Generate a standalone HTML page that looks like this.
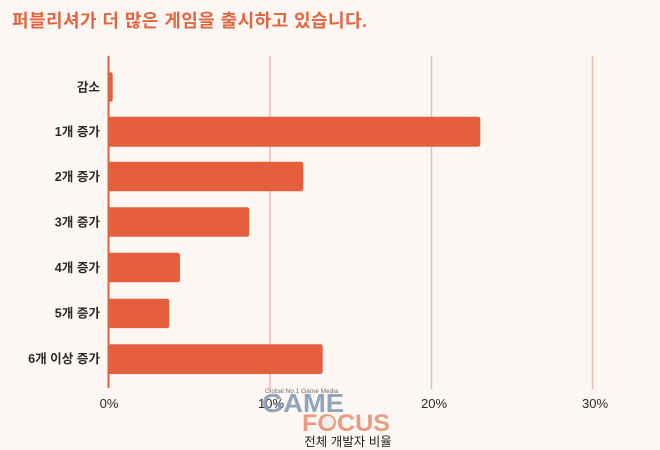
<!DOCTYPE html>
<html>
<head>
<meta charset="utf-8">
<style>
html,body{margin:0;padding:0;background:#fdf7f4;}
svg{display:block;}
</style>
</head>
<body>
<svg width="660" height="450" viewBox="0 0 660 450" xmlns="http://www.w3.org/2000/svg">
<rect width="660" height="450" fill="#fdf7f4"/>
<text x="12" y="27" font-family="'Liberation Sans','Noto Sans CJK KR',sans-serif" font-size="18" font-weight="bold" fill="#e3653f" textLength="355" lengthAdjust="spacing">퍼블리셔가 더 많은 게임을 출시하고 있습니다.</text>

<!-- gridlines -->
<g stroke="#e8bcb0" stroke-width="1.5">
<line x1="270" y1="56" x2="270" y2="389"/>
<line x1="431.5" y1="56" x2="431.5" y2="389"/>
<line x1="592.5" y1="56" x2="592.5" y2="389"/>
</g>

<!-- bars -->
<g fill="#e55f3f">
<path d="M108 72.3 H110.2 Q112.7 72.3 112.7 74.8 V99.2 Q112.7 101.7 110.2 101.7 H108 Z"/>
<path d="M108 116.7 H477.8 Q480.3 116.7 480.3 119.2 V144.2 Q480.3 146.7 477.8 146.7 H108 Z"/>
<path d="M108 161.7 H300.8 Q303.3 161.7 303.3 164.2 V188.8 Q303.3 191.3 300.8 191.3 H108 Z"/>
<path d="M108 207.3 H246.8 Q249.3 207.3 249.3 209.8 V234.3 Q249.3 236.8 246.8 236.8 H108 Z"/>
<path d="M108 252.7 H177.5 Q180 252.7 180 255.2 V279.8 Q180 282.3 177.5 282.3 H108 Z"/>
<path d="M108 298.7 H166.8 Q169.3 298.7 169.3 301.2 V325.6 Q169.3 328.1 166.8 328.1 H108 Z"/>
<path d="M108 344.3 H320.2 Q322.7 344.3 322.7 346.8 V371.5 Q322.7 374 320.2 374 H108 Z"/>
</g>

<!-- axis line -->
<line x1="108.5" y1="56" x2="108.5" y2="388" stroke="#e0603c" stroke-width="2"/>

<!-- category labels -->
<g font-family="'Liberation Sans','Noto Sans CJK KR',sans-serif" font-size="12.6" font-weight="bold" fill="#2a2a2a" text-anchor="end">
<text x="100" y="91.5">감소</text>
<text x="100" y="136">1개 증가</text>
<text x="100" y="181.2">2개 증가</text>
<text x="100" y="226.6">3개 증가</text>
<text x="100" y="272">4개 증가</text>
<text x="100" y="317.6">5개 증가</text>
<text x="100" y="363.2">6개 이상 증가</text>
</g>

<!-- tick labels -->
<g font-family="'Liberation Sans',sans-serif" font-size="13" fill="#2a2a2a" text-anchor="middle">
<text x="109" y="408">0%</text>
<text x="271" y="408">10%</text>
<text x="434" y="408">20%</text>
<text x="595" y="408">30%</text>
</g>

<!-- watermark -->
<g opacity="0.85">
<text x="265" y="393" font-family="'Liberation Sans',sans-serif" font-size="6.5" fill="#555">Global No.1 Game Media</text>
<text x="262" y="412" font-family="'Liberation Sans',sans-serif" font-size="26" font-weight="bold" fill="#7f96b0" textLength="82" lengthAdjust="spacingAndGlyphs">GAME</text>
<text x="302" y="431" font-family="'Liberation Sans',sans-serif" font-size="24" font-weight="bold" fill="#e98a6b" textLength="88" lengthAdjust="spacingAndGlyphs">FOCUS</text>
<circle cx="328" cy="422" r="6" fill="#f4ece8"/>
</g>

<!-- axis title -->
<text x="348" y="446" text-anchor="middle" font-family="'Liberation Sans','Noto Sans CJK KR',sans-serif" font-size="12.5" fill="#222">전체 개발자 비율</text>
</svg>
</body>
</html>
